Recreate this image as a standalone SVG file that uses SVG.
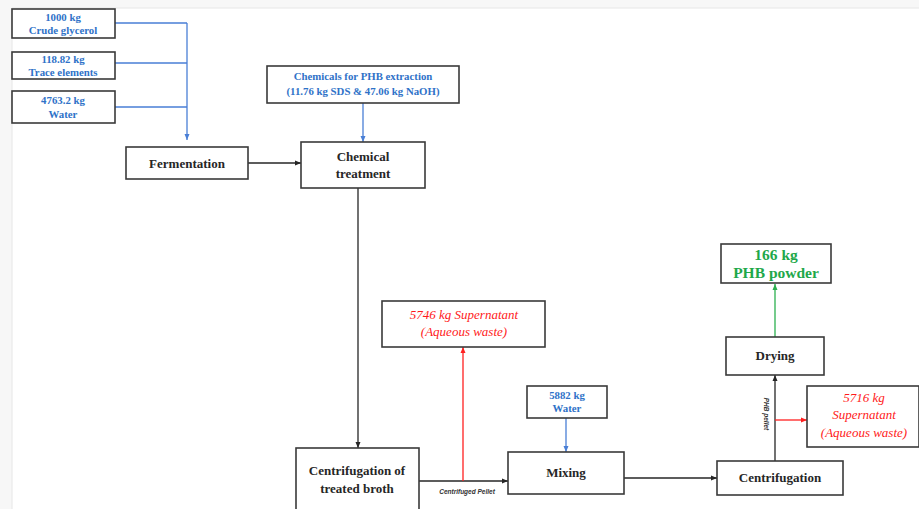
<svg xmlns="http://www.w3.org/2000/svg" width="919" height="509" viewBox="0 0 919 509">
<style>
.box{fill:#fff;stroke:#3a3a3a;stroke-width:1.6}
.t{font-family:"Liberation Serif","Times New Roman",serif;font-weight:bold;text-anchor:middle;fill:#262626;font-size:13px}
.tb{font-family:"Liberation Serif","Times New Roman",serif;font-weight:bold;text-anchor:middle;fill:#2f72c8;font-size:10.8px}
.tr{font-family:"Liberation Serif","Times New Roman",serif;font-style:italic;text-anchor:middle;fill:#ff1a1a;font-size:13px}
.tg{font-family:"Liberation Serif","Times New Roman",serif;font-weight:bold;text-anchor:middle;fill:#1fa84a;font-size:15.5px}
.ts{font-family:"Liberation Sans",Arial,sans-serif;font-style:italic;font-weight:bold;text-anchor:middle;fill:#333;font-size:6.5px}
.k{fill:none;stroke:#262626;stroke-width:1.3}
.b{fill:none;stroke:#4a7fd6;stroke-width:1.3}
.r{fill:none;stroke:#ff2020;stroke-width:1.3}
.g{fill:none;stroke:#2bb04f;stroke-width:1.3}
</style>
<defs>
<marker id="ak" markerUnits="userSpaceOnUse" markerWidth="6" markerHeight="6" refX="6" refY="3" orient="auto"><path d="M0,0.5 L6,3 L0,5.5 z" fill="#262626"/></marker>
<marker id="ab" markerUnits="userSpaceOnUse" markerWidth="6" markerHeight="6" refX="6" refY="3" orient="auto"><path d="M0,0.5 L6,3 L0,5.5 z" fill="#4a7fd6"/></marker>
<marker id="ar" markerUnits="userSpaceOnUse" markerWidth="6" markerHeight="6" refX="6" refY="3" orient="auto"><path d="M0,0.5 L6,3 L0,5.5 z" fill="#ff2020"/></marker>
<marker id="ag" markerUnits="userSpaceOnUse" markerWidth="6" markerHeight="6" refX="6" refY="3" orient="auto"><path d="M0,0.5 L6,3 L0,5.5 z" fill="#2bb04f"/></marker>
</defs>
<rect x="0" y="0" width="919" height="509" fill="#f7f7f7"/>
<rect x="12" y="8" width="907" height="501" fill="#fff"/>
<line x1="12" y1="8" x2="919" y2="8" stroke="#e6e6e6" stroke-width="1"/>
<line x1="12" y1="8" x2="12" y2="509" stroke="#e6e6e6" stroke-width="1"/>

<g id="connectors">
<path class="b" d="M115,23 H187 M115,63 H187 M115,107 H187"/>
<path class="b" d="M187,23 V140" marker-end="url(#ab)"/>
<path class="k" d="M248,163 H301" marker-end="url(#ak)"/>
<path class="b" d="M363,103 V142" marker-end="url(#ab)"/>
<path class="k" d="M358,188 V448" marker-end="url(#ak)"/>
<path class="k" d="M419,481 H508" marker-end="url(#ak)"/>
<path class="r" d="M463,481 V347" marker-end="url(#ar)"/>
<text class="ts" x="467" y="494">Centrifuged Pellet</text>
<path class="b" d="M566,418 V452" marker-end="url(#ab)"/>
<path class="k" d="M624,478 H717" marker-end="url(#ak)"/>
<path class="k" d="M775,461 V375" marker-end="url(#ak)"/>
<path class="r" d="M775,420 H807" marker-end="url(#ar)"/>
<path class="g" d="M775,337 V284" marker-end="url(#ag)"/>
<text class="ts" transform="translate(764,414) rotate(90)" x="0" y="0">PHB pellet</text>
</g>

<g id="crude-glycerol">
<rect class="box" x="12" y="9" width="103" height="29"/>
<text class="tb" x="63" y="21">1000 kg</text>
<text class="tb" x="63" y="34">Crude glycerol</text>
</g>
<g id="trace-elements">
<rect class="box" x="12" y="52" width="103" height="27"/>
<text class="tb" x="63" y="63">118.82 kg</text>
<text class="tb" x="63" y="76">Trace elements</text>
</g>
<g id="water-1">
<rect class="box" x="12" y="91" width="103" height="32"/>
<text class="tb" x="63" y="104">4763.2 kg</text>
<text class="tb" x="63" y="118">Water</text>
</g>
<g id="fermentation">
<rect class="box" x="126" y="147" width="122" height="32"/>
<text class="t" x="187" y="168">Fermentation</text>
</g>
<g id="chemicals">
<rect class="box" x="267" y="66" width="192" height="37"/>
<text class="tb" x="363" y="80">Chemicals for PHB extraction</text>
<text class="tb" x="363" y="95">(11.76 kg SDS &amp; 47.06 kg NaOH)</text>
</g>
<g id="chemical-treatment">
<rect class="box" x="301" y="142" width="124" height="46"/>
<text class="t" x="363" y="161">Chemical</text>
<text class="t" x="363" y="178">treatment</text>
</g>
<g id="centrifugation-broth">
<rect class="box" x="296" y="448" width="123" height="66"/>
<text class="t" x="357" y="475">Centrifugation of</text>
<text class="t" x="357" y="493">treated broth</text>
</g>
<g id="supernatant-1">
<rect class="box" x="382" y="301" width="163" height="46"/>
<text class="tr" x="464" y="319">5746 kg Supernatant</text>
<text class="tr" x="464" y="336">(Aqueous waste)</text>
</g>
<g id="water-2">
<rect class="box" x="527" y="386" width="80" height="32"/>
<text class="tb" x="567" y="399">5882 kg</text>
<text class="tb" x="567" y="412">Water</text>
</g>
<g id="mixing">
<rect class="box" x="508" y="452" width="116" height="42"/>
<text class="t" x="566" y="477">Mixing</text>
</g>
<g id="centrifugation">
<rect class="box" x="717" y="461" width="126" height="34"/>
<text class="t" x="780" y="482">Centrifugation</text>
</g>
<g id="drying">
<rect class="box" x="726" y="337" width="98" height="38"/>
<text class="t" x="775" y="360">Drying</text>
</g>
<g id="phb-powder">
<rect class="box" x="721" y="244" width="110" height="39"/>
<text class="tg" x="776" y="260">166 kg</text>
<text class="tg" x="776" y="278">PHB powder</text>
</g>
<g id="supernatant-2">
<rect class="box" x="807" y="386" width="112" height="61"/>
<text class="tr" x="864" y="402">5716 kg</text>
<text class="tr" x="864" y="419">Supernatant</text>
<text class="tr" x="864" y="437">(Aqueous waste)</text>
</g>
</svg>
